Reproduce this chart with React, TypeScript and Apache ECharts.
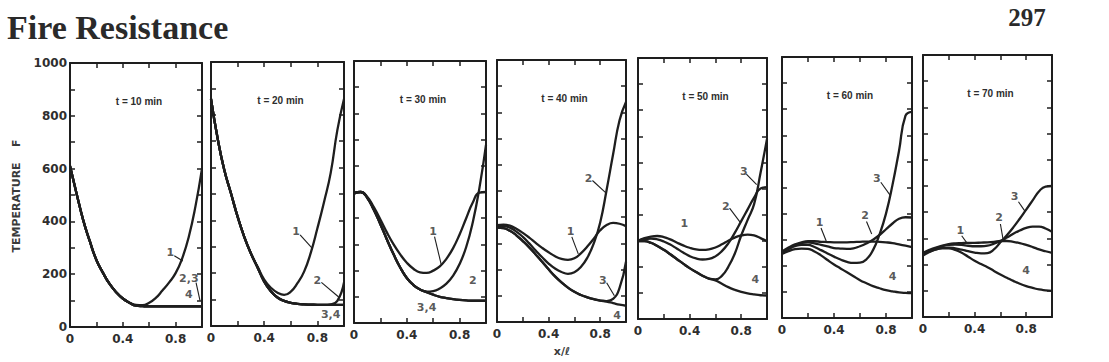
import React, { useEffect, useRef } from "react";
import * as echarts from "echarts";

// ---- data ----
const xPos = [0, 0.05, 0.1, 0.15, 0.2, 0.25, 0.3, 0.35, 0.4, 0.45, 0.5, 0.55, 0.6, 0.65, 0.7, 0.75, 0.8, 0.85, 0.9, 0.95, 1.0];
const panelTitles = ["t = 10 min", "t = 20 min", "t = 30 min", "t = 40 min", "t = 50 min", "t = 60 min", "t = 70 min"];
const yTickLabels = [0, 200, 400, 600, 800, 1000];
const xTickLabels = ["0", "0.4", "0.8"];
const xTickValues = [0, 0.4, 0.8];

const t10_c1 = [610, 505, 405, 325, 254, 205, 163, 132, 108, 92, 84, 83, 92, 110, 138, 168, 204, 260, 342, 456, 600];
const t10_c2 = [610, 505, 405, 325, 254, 205, 163, 132, 108, 92, 81, 79, 78, 78, 78, 78, 78, 78, 78, 78, 78];
const t10_c3 = [610, 505, 405, 325, 254, 205, 163, 132, 108, 92, 81, 79, 78, 78, 78, 78, 78, 78, 78, 78, 78];
const t10_c4 = [610, 505, 405, 325, 254, 205, 163, 132, 108, 92, 81, 79, 78, 78, 78, 78, 78, 78, 78, 78, 78];

const t20_c1 = [860, 710, 591, 503, 414, 338, 275, 225, 176, 145, 126, 118, 130, 162, 206, 277, 370, 470, 580, 742, 860];
const t20_c2 = [860, 710, 591, 503, 414, 338, 275, 222, 168, 132, 108, 95, 88, 84, 82, 81, 80, 80, 82, 95, 165];
const t20_c3 = [860, 710, 591, 503, 414, 338, 275, 222, 168, 132, 108, 95, 88, 84, 82, 81, 80, 80, 80, 80, 80];
const t20_c4 = [860, 710, 591, 503, 414, 338, 275, 222, 168, 132, 108, 95, 88, 84, 82, 81, 80, 80, 80, 80, 80];

const t30_c1 = [495, 500, 482, 442, 395, 345, 300, 262, 230, 207, 193, 191, 200, 216, 245, 285, 338, 400, 460, 498, 500];
const t30_c2 = [495, 500, 478, 432, 377, 318, 262, 212, 172, 145, 128, 120, 122, 132, 150, 180, 225, 290, 385, 515, 680];
const t30_c3 = [495, 500, 478, 432, 377, 318, 262, 212, 172, 145, 128, 118, 108, 100, 95, 91, 88, 86, 85, 85, 85];
const t30_c4 = [495, 500, 478, 432, 377, 318, 262, 212, 172, 145, 128, 118, 108, 100, 95, 91, 88, 86, 85, 85, 85];

const t40_c1 = [370, 372, 368, 356, 340, 322, 302, 283, 266, 251, 241, 237, 243, 262, 288, 318, 350, 370, 378, 375, 366];
const t40_c2 = [366, 366, 360, 345, 325, 300, 273, 247, 223, 204, 191, 184, 190, 210, 245, 300, 380, 505, 640, 770, 840];
const t40_c3 = [360, 358, 348, 331, 309, 285, 258, 230, 201, 174, 151, 131, 115, 103, 94, 87, 82, 80, 88, 130, 230];
const t40_c4 = [360, 358, 348, 331, 309, 285, 258, 230, 201, 174, 151, 131, 115, 103, 94, 87, 82, 78, 72, 66, 62];

const t50_c1 = [300, 310, 316, 318, 314, 305, 293, 282, 273, 267, 265, 267, 274, 286, 300, 312, 320, 323, 320, 310, 298];
const t50_c2 = [300, 306, 308, 305, 297, 285, 270, 255, 241, 232, 228, 230, 240, 260, 290, 330, 375, 420, 465, 500, 505];
const t50_c3 = [298, 298, 292, 280, 265, 248, 230, 212, 195, 180, 166, 155, 152, 165, 200, 250, 320, 380, 440, 560, 690];
const t50_c4 = [298, 298, 292, 280, 265, 248, 230, 212, 195, 180, 166, 155, 148, 135, 122, 112, 104, 98, 94, 91, 90];

const t60_c1 = [255, 270, 282, 290, 294, 294, 292, 291, 290, 290, 290, 291, 292, 293, 293, 292, 290, 287, 282, 277, 272];
const t60_c2 = [250, 266, 279, 287, 290, 286, 280, 274, 268, 266, 265, 267, 275, 286, 300, 318, 340, 362, 380, 386, 385];
const t60_c3 = [250, 264, 275, 280, 280, 272, 260, 247, 235, 224, 215, 211, 212, 225, 260, 320, 400, 510, 640, 775, 790];
const t60_c4 = [245, 256, 264, 266, 265, 255, 240, 222, 205, 190, 175, 160, 145, 133, 122, 114, 107, 102, 98, 96, 95];

const t70_c1 = [245, 256, 265, 272, 278, 281, 282, 283, 283, 284, 285, 287, 290, 290, 287, 282, 275, 267, 258, 251, 245];
const t70_c2 = [240, 252, 262, 270, 275, 276, 275, 272, 270, 270, 272, 280, 290, 303, 318, 330, 340, 345, 345, 338, 325];
const t70_c3 = [240, 250, 258, 264, 265, 262, 257, 251, 246, 243, 244, 258, 285, 312, 342, 375, 410, 445, 480, 498, 500];
const t70_c4 = [235, 248, 258, 262, 262, 256, 245, 230, 215, 202, 190, 176, 162, 150, 138, 127, 118, 111, 105, 102, 100];

// curve labels: [text, x, temperature]
const t10_labels = [["1", 0.76, 282], ["2,3", 0.9, 182], ["4", 0.9, 124]];
const t20_labels = [["1", 0.64, 357], ["2", 0.8, 174], ["3,4", 0.9, 45]];
const t30_labels = [["1", 0.6, 350], ["2", 0.9, 164], ["3,4", 0.55, 60]];
const t40_labels = [["2", 0.71, 548], ["1", 0.57, 345], ["3", 0.82, 160], ["4", 0.93, 24]];
const t50_labels = [["1", 0.36, 365], ["2", 0.68, 432], ["3", 0.82, 566], ["4", 0.91, 150]];
const t60_labels = [["1", 0.29, 365], ["2", 0.64, 392], ["3", 0.73, 535], ["4", 0.85, 160]];
const t70_labels = [["1", 0.29, 330], ["2", 0.59, 378], ["3", 0.71, 460], ["4", 0.8, 178]];

// leader strokes from label to curve: [[x1, y1], [x2, y2]]
const t10_leaders = [[[0.79, 270], [0.855, 250]], [[0.955, 168], [0.985, 100]]];
const t20_leaders = [[[0.67, 345], [0.76, 295]], [[0.83, 165], [0.96, 110]]];
const t30_leaders = [[[0.61, 330], [0.66, 225]]];
const t40_leaders = [[[0.74, 540], [0.84, 495]], [[0.58, 325], [0.63, 260]], [[0.85, 150], [0.91, 100]]];
const t50_leaders = [[[0.71, 425], [0.79, 372]], [[0.84, 555], [0.92, 515]]];
const t60_leaders = [[[0.3, 345], [0.34, 295]], [[0.65, 370], [0.69, 322]], [[0.76, 520], [0.83, 472]]];
const t70_leaders = [[[0.3, 310], [0.34, 283]], [[0.6, 355], [0.62, 298]], [[0.74, 440], [0.79, 404]]];

const panelCurves = [
  [t10_c1, t10_c2, t10_c3, t10_c4],
  [t20_c1, t20_c2, t20_c3, t20_c4],
  [t30_c1, t30_c2, t30_c3, t30_c4],
  [t40_c1, t40_c2, t40_c3, t40_c4],
  [t50_c1, t50_c2, t50_c3, t50_c4],
  [t60_c1, t60_c2, t60_c3, t60_c4],
  [t70_c1, t70_c2, t70_c3, t70_c4],
];
const panelLabels = [t10_labels, t20_labels, t30_labels, t40_labels, t50_labels, t60_labels, t70_labels];
const panelLeaders = [t10_leaders, t20_leaders, t30_leaders, t40_leaders, t50_leaders, t60_leaders, t70_leaders];

// ---- layout (scan is slightly tilted) ----
const panelBoxes = [
  { left: 70, top: 63, width: 132, height: 264 },
  { left: 211, top: 62, width: 133, height: 264 },
  { left: 354, top: 61, width: 132, height: 262 },
  { left: 497, top: 60, width: 129, height: 262 },
  { left: 638, top: 58, width: 129, height: 261 },
  { left: 782, top: 57, width: 130, height: 261 },
  { left: 923, top: 55, width: 129, height: 262 },
];

const INK = "#1e1e1e";
const TXT = "#2e2e2e";
const SANS = "'DejaVu Sans', sans-serif";

function buildOption() {
  const grid: any[] = [];
  const xAxis: any[] = [];
  const yAxis: any[] = [];
  const series: any[] = [];
  const graphic: any[] = [];

  const axisLine = { show: true, onZero: false, lineStyle: { color: INK, width: 2 } };
  const tick = { show: true, inside: true, length: 5, lineStyle: { color: INK, width: 1.5 } };

  panelBoxes.forEach((b, i) => {
    grid.push({ left: b.left, top: b.top, width: b.width, height: b.height, containLabel: false });
    xAxis.push({
      gridIndex: i, type: "value", min: 0, max: 1, interval: 0.2, position: "bottom",
      axisLine, axisTick: tick, splitLine: { show: false },
      axisLabel: {
        show: true, margin: 6, color: TXT, fontFamily: SANS, fontSize: 12, fontWeight: "bold",
        formatter: (v: number) => {
          const k = xTickValues.findIndex((t) => Math.abs(t - v) < 1e-6);
          return k >= 0 ? xTickLabels[k] : "";
        },
      },
    });
    xAxis.push({
      gridIndex: i, type: "value", min: 0, max: 1, interval: 0.2, position: "top",
      axisLine, axisTick: tick, splitLine: { show: false }, axisLabel: { show: false },
    });
    yAxis.push({
      gridIndex: i, type: "value", min: 0, max: 1000, interval: 100, position: "left",
      axisLine, axisTick: tick, splitLine: { show: false },
      axisLabel: {
        show: i === 0, margin: 3, color: TXT, fontFamily: SANS, fontSize: 12, fontWeight: "bold",
        formatter: (v: number) => (yTickLabels.includes(v) ? String(v) : ""),
      },
    });
    yAxis.push({
      gridIndex: i, type: "value", min: 0, max: 1000, interval: 100, position: "right",
      axisLine, axisTick: tick, splitLine: { show: false }, axisLabel: { show: false },
    });

    panelCurves[i].forEach((vals, c) => {
      series.push({
        type: "line", name: `t${i}_c${c + 1}`, xAxisIndex: 2 * i, yAxisIndex: 2 * i,
        data: xPos.map((x, k) => [x, vals[k]]),
        showSymbol: false, symbol: "none", smooth: 0.5,
        lineStyle: { color: INK, width: 2.3 }, silent: true, z: 3,
      });
    });

    panelLeaders[i].forEach((seg) => {
      series.push({
        type: "line", xAxisIndex: 2 * i, yAxisIndex: 2 * i, data: seg,
        showSymbol: false, symbol: "none", lineStyle: { color: INK, width: 1.1 }, silent: true, z: 2,
      });
    });

    series.push({
      type: "scatter", xAxisIndex: 2 * i, yAxisIndex: 2 * i, symbolSize: 0, silent: true,
      data: panelLabels[i].map((l) => [l[1], l[2], l[0]]),
      label: {
        show: true, position: "inside", formatter: (p: any) => p.data[2],
        color: TXT, fontFamily: SANS, fontSize: 11, fontWeight: "bold",
      },
      z: 4,
    });

    graphic.push({
      type: "text", x: b.left + b.width / 2 + 3, y: b.top + 38,
      style: { text: panelTitles[i], align: "center", verticalAlign: "middle", fill: TXT, font: `bold 10px 'Liberation Sans', sans-serif` },
    });
  });

  graphic.push({
    type: "text", x: 7, y: 27,
    style: { text: "Fire Resistance", align: "left", verticalAlign: "middle", fill: "#2a2a2a", font: "bold 34px 'Liberation Serif', serif" },
  });
  graphic.push({
    type: "text", x: 1027, y: 17,
    style: { text: "297", align: "center", verticalAlign: "middle", fill: "#2a2a2a", font: "bold 25px 'Liberation Serif', serif" },
  });
  graphic.push({
    type: "text", x: 16, y: 196, rotation: Math.PI / 2,
    style: { text: "TEMPERATURE    F", align: "center", verticalAlign: "middle", fill: "#3a3a3a", font: `bold 11px ${SANS}` },
  });
  graphic.push({
    type: "text", x: 562, y: 351,
    style: { text: "x/ℓ", align: "center", verticalAlign: "middle", fill: "#3a3a3a", font: `bold 11px ${SANS}` },
  });

  return { animation: false, backgroundColor: "#ffffff", grid, xAxis, yAxis, series, graphic };
}

export default function App() {
  const ref = useRef<HTMLDivElement>(null);
  useEffect(() => {
    document.body.style.margin = "0";
    if (!ref.current) return;
    const chart = echarts.init(ref.current, undefined, { renderer: "svg" });
    chart.setOption(buildOption());
    return () => chart.dispose();
  }, []);
  return <div ref={ref} style={{ width: 1109, height: 362 }} />;
}
